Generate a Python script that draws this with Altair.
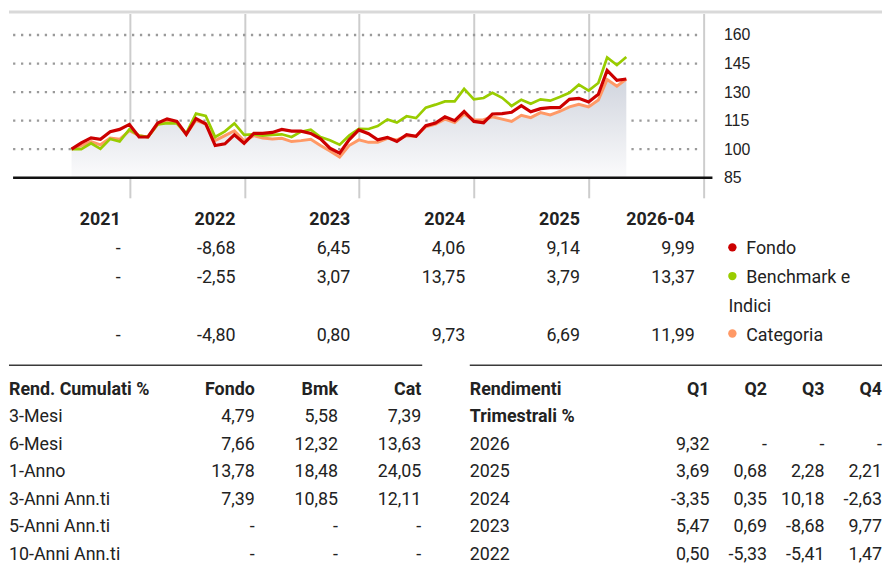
import altair as alt
import pandas as pd

FONT = "Roboto"
FS = 18
AXFONT = "Liberation Sans, Arial, sans-serif"
TXT = "#222222"

# ---------------- data ----------------
months = pd.date_range("2021-06-30", periods=59, freq="ME")
fondo = [100, 103.3, 105.9, 105.2, 109.2, 110.4, 113.0, 106.4, 106.4, 113.7,
         115.9, 114.6, 107.8, 116.1, 113.3, 101.9, 102.8, 107.5, 103.1, 108.3,
         108.3, 108.8, 110.4, 109.5, 109.5, 108.3, 105.4, 100.5, 97.9, 104.9,
         110.1, 108.1, 104.9, 106.2, 104.0, 107.6, 106.8, 112.3, 113.7, 117.0,
         115.0, 119.8, 114.6, 113.9, 118.5, 118.7, 119.4, 122.9, 119.6, 121.3,
         121.8, 121.8, 126.2, 126.7, 124.8, 128.8, 141.4, 136.2, 136.9]
benchmark = [100, 100.0, 103.1, 100.2, 105.4, 104.0, 110.4, 107.1, 106.4, 113.0,
             113.7, 113.5, 108.3, 118.7, 117.5, 106.4, 109.4, 113.5, 107.5, 107.8,
             107.1, 107.5, 107.8, 106.4, 109.2, 110.2, 106.4, 104.7, 102.4, 107.1,
             110.7, 110.6, 112.1, 115.6, 114.0, 117.3, 116.3, 121.8, 123.4, 125.1,
             125.1, 131.7, 126.2, 126.9, 129.6, 127.0, 122.7, 126.0, 123.9, 126.2,
             125.5, 127.4, 129.6, 133.9, 130.8, 134.8, 148.2, 144.2, 148.4]
categoria = [100, 101.9, 104.0, 102.3, 105.9, 105.2, 109.7, 107.1, 106.4, 113.0,
             114.9, 114.0, 107.8, 115.2, 113.2, 104.5, 107.1, 109.7, 104.4, 107.1,
             105.9, 105.4, 105.7, 104.0, 104.5, 105.2, 101.9, 99.0, 95.8, 101.9,
             104.9, 103.6, 103.6, 105.7, 104.9, 107.1, 106.8, 111.8, 113.2, 115.8,
             114.0, 118.4, 115.3, 115.5, 117.0, 115.8, 114.6, 117.8, 116.6, 119.2,
             118.0, 119.8, 122.2, 123.6, 122.2, 125.8, 136.6, 133.1, 136.9]

y_ticks = [85, 100, 115, 130, 145, 160]

years = ["2021", "2022", "2023", "2024", "2025", "2026-04"]
annual_fondo = [None, -8.68, 6.45, 4.06, 9.14, 9.99]
annual_bmk = [None, -2.55, 3.07, 13.75, 3.79, 13.37]
annual_cat = [None, -4.80, 0.80, 9.73, 6.69, 11.99]

legend_names = ["Fondo", "Benchmark e", "Categoria"]
legend_wrap = "Indici"
colors = ["#cc0000", "#99cc00", "#ff9966"]

cum_labels = ["3-Mesi", "6-Mesi", "1-Anno", "3-Anni Ann.ti", "5-Anni Ann.ti", "10-Anni Ann.ti"]
cum_cols = ["Fondo", "Bmk", "Cat"]
cum_fondo = [4.79, 7.66, 13.78, 7.39, None, None]
cum_bmk = [5.58, 12.32, 18.48, 10.85, None, None]
cum_cat = [7.39, 13.63, 24.05, 12.11, None, None]

q_years = ["2026", "2025", "2024", "2023", "2022"]
q_cols = ["Q1", "Q2", "Q3", "Q4"]
q1 = [9.32, 3.69, -3.35, 5.47, 0.50]
q2 = [None, 0.68, 0.35, 0.69, -5.33]
q3 = [None, 2.28, 10.18, -8.68, -5.41]
q4 = [None, 2.21, -2.63, 9.77, 1.47]


def fmt(v):
    return "-" if v is None else f"{v:.2f}".replace(".", ",")


# ---------------- top: gray bar ----------------
FULLW = 881
bar = alt.Chart(pd.DataFrame({"a": [0]})).mark_rect(color="#d9d9d9").encode(
    x=alt.value(0), x2=alt.value(FULLW), y=alt.value(0), y2=alt.value(3)
).properties(width=FULLW, height=3)

# ---------------- line chart ----------------
W = 701
def DT(y, m, d):
    return alt.DateTime(year=y, month=m, date=d)

xscale = alt.Scale(domain=[DT(2020, 12, 13), DT(2027, 1, 1)])
xaxis = alt.Axis(values=[DT(y, 1, 1) for y in range(2022, 2028)], grid=True,
                 gridColor="#cdcdcd", gridWidth=2, labels=False, ticks=False,
                 domain=False, title=None)
yscale = alt.Scale(domain=[74.43, 171.3], nice=False, zero=False)
yaxis = alt.Axis(orient="right", values=y_ticks, grid=False, ticks=False, tickSize=0,
                 domain=False, labelPadding=20, labelFont=AXFONT, labelFontSize=16,
                 labelColor=TXT, title=None)

df = pd.DataFrame({"date": months, "Fondo": fondo, "Benchmark": benchmark,
                   "Categoria": categoria})
X = alt.X("date:T", scale=xscale, axis=xaxis)

grad = alt.Gradient(gradient="linear",
                    stops=[alt.GradientStop(color="#d1d5de", offset=0),
                           alt.GradientStop(color="#fbfbfc", offset=1)],
                    x1=0, x2=0, y1=0, y2=1)

area = alt.Chart(df).mark_area(color=grad).encode(
    x=X, y=alt.Y("Categoria:Q", scale=yscale, axis=yaxis), y2=alt.Y2Datum(85))

dots = alt.Chart(pd.DataFrame({"lvl": y_ticks[1:]})).mark_rule(
    color="#9a9a9a", strokeWidth=2.3, strokeDash=[2.3, 5.7]).encode(
    x=alt.XDatum(DT(2020, 12, 26), type="temporal", scale=xscale, axis=xaxis),
    x2=alt.X2Datum(DT(2026, 12, 20)),
    y=alt.Y("lvl:Q", scale=yscale, axis=yaxis))

baseline = alt.Chart(pd.DataFrame({"lvl": [y_ticks[0]]})).mark_rule(
    color="#111111", strokeWidth=2.5).encode(
    x=alt.XDatum(DT(2020, 12, 26), type="temporal", scale=xscale, axis=xaxis),
    x2=alt.X2Datum(DT(2027, 1, 29)),
    y=alt.Y("lvl:Q", scale=yscale, axis=yaxis))

lines = []
for col, c, w in [("Categoria", colors[2], 3), ("Benchmark", colors[1], 2.7), ("Fondo", colors[0], 3.2)]:
    lines.append(alt.Chart(df).mark_line(color=c, strokeWidth=w).encode(
        x=X, y=alt.Y(f"{col}:Q", scale=yscale, axis=yaxis)))

top = alt.layer(dots, area, *lines, baseline).properties(width=W, height=186)

# ---------------- annual table ----------------
ann_rows = []
for i, yl in enumerate(years):
    end = f"{int(yl[:4]) + 1}-01-01"
    ann_rows.append({"end": end, "row": 0, "txt": yl, "bold": True})
    for r, vals in [(1, annual_fondo), (2, annual_bmk), (4, annual_cat)]:
        ann_rows.append({"end": end, "row": r, "txt": fmt(vals[i]), "bold": False})
ann = pd.DataFrame(ann_rows)
rowscale_c = alt.Scale(domain=[-0.724, 4.621], reverse=True, nice=False, zero=False)
Xc = alt.X("end:T", scale=xscale, axis=None)
Yc = alt.Y("row:Q", scale=rowscale_c, axis=None)

ann_head = alt.Chart(ann[ann.bold]).mark_text(
    align="right", baseline="middle", dx=-9, dy=1, font=FONT, fontSize=FS,
    fontWeight="bold", color=TXT).encode(x=Xc, y=Yc, text="txt:N")
ann_vals = alt.Chart(ann[~ann.bold]).mark_text(
    align="right", baseline="middle", dx=-9, dy=2, font=FONT, fontSize=FS,
    color=TXT).encode(x=Xc, y=Yc, text="txt:N")

leg = pd.DataFrame({"name": legend_names, "row": [1, 2, 4], "color": colors})
leg_dot = alt.Chart(leg).mark_circle(size=72, opacity=1).encode(
    x=alt.value(730), y=Yc, color=alt.Color("color:N", scale=None))
leg_txt = alt.Chart(leg).mark_text(
    align="left", baseline="middle", dy=2, font=FONT, fontSize=FS, color=TXT).encode(
    x=alt.value(744), y=Yc, text="name:N")
leg_wrap = alt.Chart(pd.DataFrame({"name": [legend_wrap], "row": [3]})).mark_text(
    align="left", baseline="middle", dy=2, font=FONT, fontSize=FS, color=TXT).encode(
    x=alt.value(726), y=Yc, text="name:N")

annual = alt.layer(ann_head, ann_vals, leg_dot, leg_txt, leg_wrap).properties(width=W, height=155)

# ---------------- bottom tables ----------------
STEP = 27.8
HDR = 35.5
HB = 208
rowscale_d = alt.Scale(domain=[-HDR / STEP, (HB - HDR) / STEP], reverse=True, nice=False, zero=False)
Yd = alt.Y("row:Q", scale=rowscale_d, axis=None)

left_lab = pd.DataFrame({"txt": ["Rend. Cumulati %"] + cum_labels,
                         "row": list(range(7)), "bold": [True] + [False] * 6})
left_vals = []
for j, c in enumerate(cum_cols):
    left_vals.append({"col": c, "row": 0, "txt": c, "bold": True})
    vals = [cum_fondo, cum_bmk, cum_cat][j]
    for i, v in enumerate(vals):
        left_vals.append({"col": c, "row": i + 1, "txt": fmt(v), "bold": False})
left_vals = pd.DataFrame(left_vals)

right_lab = pd.DataFrame({"txt": ["Rendimenti", "Trimestrali %"] + q_years,
                          "row": list(range(7)), "bold": [True, True] + [False] * 5})
right_vals = []
for j, c in enumerate(q_cols):
    right_vals.append({"col": c, "row": 0, "txt": c, "bold": True})
    vals = [q1, q2, q3, q4][j]
    for i, v in enumerate(vals):
        right_vals.append({"col": c, "row": i + 2, "txt": fmt(v), "bold": False})
right_vals = pd.DataFrame(right_vals)

lscale = alt.Scale(domain=cum_cols, range=[248, 416], padding=0)
rscale = alt.Scale(domain=q_cols, range=[707, 881], padding=0)


def txt_layer(d, x_enc, align):
    layers = []
    for b in [True, False]:
        sub = d[d.bold == b]
        layers.append(alt.Chart(sub).mark_text(
            align=align, baseline="middle", dy=3, font=FONT, fontSize=FS,
            fontWeight="bold" if b else "normal", color=TXT).encode(
            x=x_enc, y=Yd, text="txt:N"))
    return layers

sep_l = alt.Chart(pd.DataFrame({"a": [0]})).mark_rule(color="#3a3a3a", strokeWidth=1.4).encode(
    x=alt.value(0), x2=alt.value(417), y=alt.value(14))
sep_r = alt.Chart(pd.DataFrame({"a": [0]})).mark_rule(color="#3a3a3a", strokeWidth=1.4).encode(
    x=alt.value(465), x2=alt.value(FULLW), y=alt.value(14))

bottom_layers = [sep_l, sep_r]
bottom_layers += txt_layer(left_lab, alt.value(0), "left")
bottom_layers += txt_layer(left_vals, alt.X("col:N", scale=lscale, axis=None), "right")
bottom_layers += txt_layer(right_lab, alt.value(465), "left")
bottom_layers += txt_layer(right_vals, alt.X("col:N", scale=rscale, axis=None), "right")

bottom = alt.layer(*bottom_layers).resolve_scale(x="independent").properties(
    width=FULLW, height=HB)

chart = alt.vconcat(bar, top, annual, bottom, spacing=0, bounds="flush").properties(
    padding=0, background="white").configure_view(stroke=None)

chart.save("out.html", embed_options={"renderer": "svg", "actions": False})
